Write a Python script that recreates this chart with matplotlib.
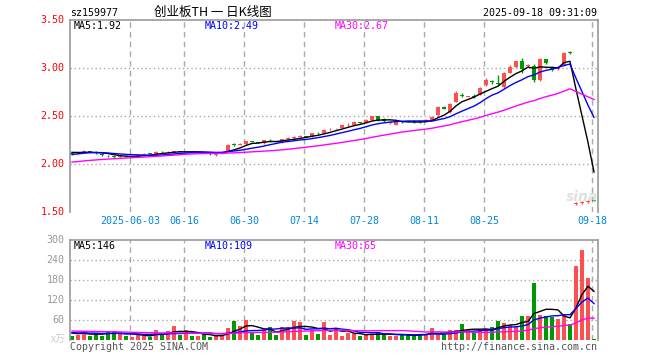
import matplotlib
matplotlib.use("Agg")
import matplotlib.pyplot as plt
import numpy as np
import pandas as pd

# ---------------- data ----------------
holidays = ["2025-06-02"]
dates = [d for d in pd.bdate_range("2025-05-19", "2025-09-18").strftime("%Y-%m-%d") if d not in holidays]

opens = [2.115, 2.11, 2.13, 2.135, 2.13, 2.105, 2.085, 2.08, 2.075, 2.085,
         2.075, 2.075, 2.09, 2.11, 2.105, 2.125, 2.12, 2.12, 2.135, 2.12,
         2.13, 2.12, 2.125, 2.115, 2.09, 2.105, 2.13, 2.205, 2.20, 2.205,
         2.235, 2.225, 2.215, 2.25, 2.235, 2.225, 2.265, 2.275, 2.285, 2.29,
         2.29, 2.325, 2.32, 2.36, 2.37, 2.375, 2.405, 2.41, 2.435, 2.43,
         2.46, 2.50, 2.465, 2.43, 2.41, 2.44, 2.445, 2.445, 2.445, 2.45,
         2.46, 2.51, 2.59, 2.54, 2.65, 2.72, 2.70, 2.71, 2.72, 2.82,
         2.86, 2.845, 2.80, 2.95, 3.01, 3.07, 3.025, 3.02, 2.87, 3.09,
         3.00, 2.99, 3.03, 3.165, 1.585, 1.59, 1.60, 1.62]
closes = [2.105, 2.115, 2.135, 2.13, 2.11, 2.09, 2.08, 2.075, 2.08, 2.08,
          2.08, 2.09, 2.105, 2.105, 2.125, 2.12, 2.125, 2.135, 2.13, 2.125,
          2.12, 2.125, 2.12, 2.105, 2.105, 2.125, 2.20, 2.20, 2.205, 2.235,
          2.23, 2.22, 2.245, 2.245, 2.23, 2.26, 2.27, 2.28, 2.29, 2.285,
          2.32, 2.32, 2.355, 2.365, 2.375, 2.405, 2.41, 2.44, 2.43, 2.46,
          2.50, 2.455, 2.45, 2.435, 2.435, 2.435, 2.44, 2.44, 2.435, 2.455,
          2.49, 2.59, 2.575, 2.63, 2.74, 2.71, 2.705, 2.70, 2.79, 2.88,
          2.85, 2.83, 2.95, 3.01, 3.07, 2.99, 3.03, 2.88, 3.09, 3.05,
          2.98, 3.00, 3.16, 3.16, 1.59, 1.60, 1.615, 1.615]
highs = [2.12, 2.13, 2.145, 2.14, 2.135, 2.11, 2.09, 2.085, 2.085, 2.09,
         2.085, 2.095, 2.11, 2.115, 2.135, 2.135, 2.14, 2.14, 2.14, 2.135,
         2.135, 2.13, 2.13, 2.12, 2.11, 2.13, 2.21, 2.22, 2.215, 2.24,
         2.24, 2.23, 2.25, 2.265, 2.24, 2.265, 2.285, 2.295, 2.30, 2.295,
         2.325, 2.335, 2.36, 2.38, 2.38, 2.41, 2.425, 2.445, 2.44, 2.465,
         2.505, 2.505, 2.48, 2.445, 2.44, 2.445, 2.45, 2.455, 2.45, 2.47,
         2.495, 2.60, 2.60, 2.635, 2.76, 2.735, 2.71, 2.725, 2.80, 2.90,
         2.875, 2.93, 2.96, 3.035, 3.075, 3.10, 3.04, 3.04, 3.10, 3.095,
         3.02, 3.02, 3.17, 3.18, 1.60, 1.61, 1.62, 1.62]
lows = [2.09, 2.10, 2.12, 2.125, 2.105, 2.085, 2.07, 2.065, 2.07, 2.075,
        2.07, 2.07, 2.085, 2.10, 2.10, 2.11, 2.115, 2.115, 2.125, 2.12,
        2.115, 2.115, 2.115, 2.095, 2.085, 2.10, 2.125, 2.19, 2.195, 2.20,
        2.225, 2.215, 2.21, 2.23, 2.225, 2.22, 2.255, 2.265, 2.27, 2.28,
        2.285, 2.31, 2.315, 2.35, 2.365, 2.37, 2.395, 2.405, 2.425, 2.425,
        2.455, 2.45, 2.44, 2.42, 2.405, 2.43, 2.435, 2.43, 2.43, 2.44,
        2.455, 2.505, 2.57, 2.535, 2.645, 2.70, 2.695, 2.685, 2.715, 2.815,
        2.835, 2.82, 2.79, 2.945, 3.005, 2.95, 3.02, 2.855, 2.865, 3.045,
        2.965, 2.975, 3.025, 3.145, 1.575, 1.58, 1.595, 1.615]
volumes = [12, 15, 27, 12, 22, 12, 26, 27, 19, 12,
           10, 15, 15, 10, 30, 15, 27, 42, 15, 30,
           12, 12, 17, 10, 12, 15, 37, 57, 42, 60,
           20, 15, 30, 39, 15, 39, 39, 57, 53, 15,
           30, 18, 54, 15, 33, 12, 22, 18, 12, 15,
           18, 24, 18, 12, 12, 15, 18, 12, 18, 18,
           36, 15, 18, 30, 30, 48, 30, 24, 30, 33,
           39, 57, 51, 45, 39, 71, 72, 170, 76, 72,
           70, 63, 79, 48, 223, 270, 186, 3]

# closes / volumes before the visible window (estimated from where the MA lines start)
prev_close = [1.95, 1.94, 1.96, 1.97, 1.95, 1.96, 1.97, 1.96, 1.98, 1.97,
              1.99, 2.00, 1.99, 2.01, 2.00, 2.00, 2.01, 1.99, 2.00, 2.01,
              2.05, 2.07, 2.08, 2.09, 2.10, 2.12, 2.13, 2.12, 2.13]
prev_vol = [32, 28, 35, 26, 30, 27, 31, 29, 33, 25,
            30, 28, 27, 32, 29, 26, 31, 28, 30, 33,
            22, 25, 20, 24, 24, 25, 21, 24, 23]

tick_dates = ["2025-06-03", "2025-06-16", "2025-06-30", "2025-07-14",
              "2025-07-28", "2025-08-11", "2025-08-25", "2025-09-18"]
tick_labels = ["2025-06-03", "06-16", "06-30", "07-14", "07-28", "08-11", "08-25", "09-18"]
price_ticks = [1.50, 2.00, 2.50, 3.00, 3.50]
vol_ticks = [60, 120, 180, 240, 300]
ma_windows = [5, 10, 30]
ma_colors = ["black", "#0000ff", "#ff00ff"]

# ---------------- computations ----------------
n = len(closes)
x = np.arange(n)
o = np.array(opens); c = np.array(closes); h = np.array(highs); l = np.array(lows)
v = np.array(volumes, dtype=float)
up = c >= o
RED = "#ff5050"; GREEN = "#009900"
cols = [RED if u else GREEN for u in up]

full_c = pd.Series(prev_close + closes)
full_v = pd.Series(prev_vol + volumes, dtype=float)
ma_p = [full_c.rolling(w).mean().to_numpy()[-n:] for w in ma_windows]
ma_v = [full_v.rolling(w).mean().to_numpy()[-n:] for w in ma_windows]
tick_pos = [dates.index(d) for d in tick_dates]

W, H = 660, 360
fig = plt.figure(figsize=(6.6, 3.6), dpi=100)
fig.patch.set_facecolor("white")

def fx(px):
    return px / W
def fy(py):
    return 1 - py / H

x0 = -1/3
xlim = (x0, x0 + 88)

ax = fig.add_axes([fx(70), fy(212), fx(598) - fx(70), fy(20) - fy(212)])
axv = fig.add_axes([fx(70), fy(340), fx(598) - fx(70), fy(240) - fy(340)])

MONO = "DejaVu Sans Mono"
FS = 7.2

for a in (ax, axv):
    a.set_xlim(*xlim)
    a.set_xticks([])
    a.set_yticks([])
    for s in ("top", "left", "right"):
        a.spines[s].set_color("#999999")
        a.spines[s].set_linewidth(1.2)
    a.spines["bottom"].set_visible(False)
    for p in tick_pos:
        a.axvline(p - 1/3, color="#aaaaaa", lw=1, ls=(0, (4, 3)), zorder=0)

# price panel
ax.set_ylim(1.5, 3.5)
for t in price_ticks[1:-1]:
    ax.axhline(t, color="#aaaaaa", lw=1, ls=(0, (1, 2)), zorder=0)
ax.vlines(x, l, h, colors=cols, lw=1, zorder=2)
body = np.maximum(np.abs(c - o), 0.006)
ax.bar(x, body, bottom=np.minimum(o, c), width=0.8, color=cols, zorder=3, linewidth=0)
for m, col in zip(ma_p, ma_colors):
    ax.plot(x, m, color=col, lw=1, zorder=4)

# volume panel
axv.set_ylim(0, 300)
for t in vol_ticks[:-1]:
    axv.axhline(t, color="#aaaaaa", lw=1, ls=(0, (1, 2)), zorder=0)
axv.bar(x, v, width=0.8, color=cols, zorder=2, linewidth=0)
for m, col in zip(ma_v, ma_colors):
    axv.plot(x, m, color=col, lw=1, zorder=3)

# price tick labels
for t in price_ticks:
    ax.text(-0.01, (t - 1.5) / 2.0, f"{t:.2f}", transform=ax.transAxes, ha="right",
            va="center", color="#ff0000", fontsize=FS, family=MONO)
# volume tick labels
for t in vol_ticks:
    axv.text(-0.01, t / 300, f"{t}", transform=axv.transAxes, ha="right",
             va="center", color="#999999", fontsize=FS, family=MONO)
fig.text(fx(66), fy(339), "x万", ha="right", va="center", color="#cccccc",
         fontsize=FS, family=["Noto Sans CJK SC", "DejaVu Sans"])

# date labels
for p, lab in zip(tick_pos, tick_labels):
    ax.text(p - 1/3, -0.045, lab, transform=ax.get_xaxis_transform(), ha="center",
            va="center", color="#0088dd", fontsize=FS, family=MONO)

# header
fig.text(fx(70), fy(13), "sz159977", ha="left", va="center", fontsize=FS, family=MONO)
fig.text(fx(213), fy(12), "创业板TH 一 日K线图", ha="center", va="center", fontsize=9,
         family=["Noto Sans CJK SC", "DejaVu Sans"])
fig.text(fx(597), fy(13), "2025-09-18 09:31:09", ha="right", va="center", fontsize=FS, family=MONO)

# MA legends
lab_x = [74, 205, 335]
for i, (w, col) in enumerate(zip(ma_windows, ma_colors)):
    fig.text(fx(lab_x[i]), fy(26), f"MA{w}:{ma_p[i][-1]:.2f}", color=col,
             ha="left", va="center", fontsize=FS, family=MONO)
    fig.text(fx(lab_x[i]), fy(246), f"MA{w}:{ma_v[i][-1]:.0f}", color=col,
             ha="left", va="center", fontsize=FS, family=MONO)

# footer
fig.text(fx(70), fy(347), "Copyright 2025 SINA.COM", ha="left", va="center",
         color="#555555", fontsize=FS, family=MONO)
fig.text(fx(597), fy(347), "http://finance.sina.com.cn", ha="right", va="center",
         color="#555555", fontsize=FS, family=MONO)

# faint watermark
fig.text(fx(582), fy(197), "sina", ha="center", va="center", color="#cccccc",
         alpha=0.6, fontsize=10, fontweight="bold", style="italic", zorder=0)

fig.savefig("out.png", dpi=100, facecolor="white")
